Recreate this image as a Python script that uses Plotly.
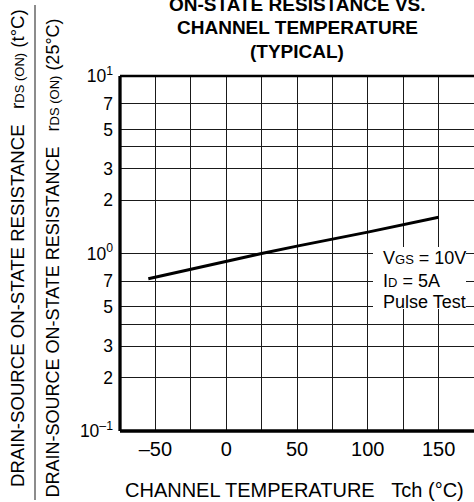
import plotly.graph_objects as go

# Normalized on-state resistance vs channel temperature (typical)
temperature_c = [-55, 0, 25, 50, 100, 150]
r_ratio = [0.72, 0.905, 1.0, 1.10, 1.32, 1.60]

# Axis ticks
x_grid = [-75, -50, -25, 0, 25, 50, 75, 100, 125, 150, 175]
x_labels = ["", "–50", "", "0", "", "50", "", "100", "", "150", ""]
y_grid = [0.1, 0.2, 0.3, 0.4, 0.5, 0.7, 1, 2, 3, 4, 5, 7, 10]
y_labels = ["10<sup>–1</sup>", "2", "3", "", "5", "7", "10<sup>0</sup>",
            "2", "3", "", "5", "7", "10<sup>1</sup>"]

title_lines = ["ON-STATE RESISTANCE VS.", "CHANNEL TEMPERATURE", "(TYPICAL)"]


def small(s, size):
    return f'<span style="font-size:{size}px">{s}</span>'


condition_lines = [f"V{small('GS', 13)} = 10V", f"I{small('D', 13)} = 5A", "Pulse Test"]

FONT = "Liberation Sans, Arial, Helvetica, sans-serif"
W, H = 474, 502
L, R, T, B = 120, 0, 76, 71
PW, PH = W - L - R, H - T - B


def px_x(p):
    return (p - L) / PW


def px_y(p):
    return (H - B - p) / PH


fig = go.Figure()
fig.add_trace(go.Scatter(
    x=temperature_c, y=r_ratio, mode="lines",
    line=dict(color="black", width=3), hoverinfo="skip", showlegend=False,
))

fig.update_layout(
    width=W, height=H,
    margin=dict(l=L, r=R, t=T, b=B),
    paper_bgcolor="white", plot_bgcolor="white",
    font=dict(family=FONT, color="black"),
    showlegend=False,
)

fig.update_xaxes(
    range=[-75, 175], tickmode="array", tickvals=x_grid, ticktext=x_labels,
    showgrid=True, gridcolor="#1a1a1a", gridwidth=1, zeroline=False,
    showline=False, ticks="", tickfont=dict(size=20, family=FONT),
    ticklabelstandoff=4,
)
fig.update_yaxes(
    type="log", range=[-1, 1], tickmode="array", tickvals=y_grid, ticktext=y_labels,
    showgrid=True, gridcolor="#1a1a1a", gridwidth=1, zeroline=False,
    showline=False, ticks="", tickfont=dict(size=17.5, family=FONT),
    ticklabelstandoff=6,
)

shapes = [
    # white backing for the test conditions
    dict(type="rect", xref="paper", yref="paper",
         x0=px_x(373), x1=px_x(466), y0=px_y(309), y1=px_y(247),
         fillcolor="white", line=dict(width=0), layer="above"),
    # plot frame
    dict(type="line", xref="paper", yref="paper", x0=0, x1=0, y0=0, y1=1,
         line=dict(color="black", width=3.3)),
    dict(type="line", xref="paper", yref="paper", x0=0, x1=1, y0=0, y1=0,
         line=dict(color="black", width=3.3)),
    dict(type="line", xref="paper", yref="paper", x0=0, x1=1, y0=1, y1=1,
         line=dict(color="black", width=2.5)),
    # fraction bar of the y-axis title
    dict(type="line", xref="paper", yref="paper",
         x0=px_x(35), x1=px_x(35), y0=px_y(500), y1=px_y(5),
         line=dict(color="#666666", width=1.5)),
]
fig.update_layout(shapes=shapes)

ann = []
for text, cy in zip(title_lines, [4, 27.5, 51]):
    ann.append(dict(text=f"<b>{text}</b>", xref="paper", yref="paper",
                    x=px_x(297), y=px_y(cy), xanchor="center", yanchor="middle",
                    showarrow=False, font=dict(size=19, family=FONT)))

for text, cy in zip(condition_lines, [258, 281, 302]):
    ann.append(dict(text=text, xref="paper", yref="paper",
                    x=px_x(381), y=px_y(cy), xanchor="left", yanchor="middle",
                    showarrow=False, font=dict(size=18, family=FONT)))

ann.append(dict(text="CHANNEL TEMPERATURE&nbsp;&nbsp;&nbsp;Tch (°C)",
                xref="paper", yref="paper", x=px_x(123), y=px_y(490),
                xanchor="left", yanchor="middle", showarrow=False,
                font=dict(size=20, family=FONT)))

# stacked y-axis title: r(t°C) over r(25°C)
for label, cx, bottom, size in [("t°C", 17, 489, 18.6), ("25°C", 52, 500, 18)]:
    ann.append(dict(
        text=("DRAIN-SOURCE ON-STATE RESISTANCE&nbsp;&nbsp;&nbsp;r"
              + small("DS (ON)", 13) + f" ({label})"),
        xref="paper", yref="paper", x=px_x(cx), y=px_y(bottom),
        xanchor="center", yanchor="bottom", textangle=-90, showarrow=False,
        font=dict(size=size, family=FONT)))
fig.update_layout(annotations=ann)

fig.write_html("out.html")
